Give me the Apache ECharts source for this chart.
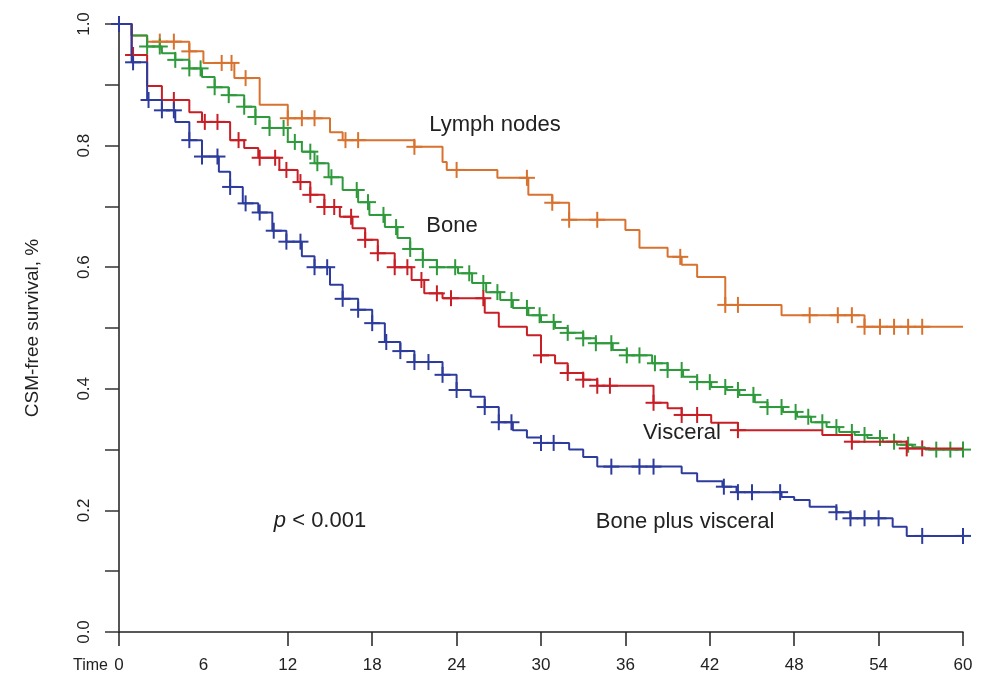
<!DOCTYPE html>
<html>
<head>
<meta charset="utf-8">
<script src="https://cdn.jsdelivr.net/npm/echarts@6/dist/echarts.min.js"></script>
<style>
html,body{margin:0;padding:0;background:#fff;}
#chart{width:982px;height:687px;}
</style>
</head>
<body>
<div id="chart"></div>
<script>
// ---- tick labels ----
const xTickLabels = [0, 6, 12, 18, 24, 30, 36, 42, 48, 54, 60];
const xTickMarks = [0, 12, 18, 24, 30, 36, 42, 48, 54, 60];
const yTickLabels = [0, 0.2, 0.4, 0.6, 0.8, 1.0];
const yTickMarks = [0, 0.1, 0.2, 0.3, 0.4, 0.5, 0.6, 0.7, 0.8, 0.9, 1.0];

// ---- Lymph nodes ----
const lymphTimes = [0, 0.9, 2.0, 5.0, 6.0, 8.2, 10.0, 12.0, 15.0, 15.9, 21.0, 23.0, 23.3, 26.9, 29.1, 30.8, 32.0, 36.0, 37.0, 39.0, 40.0, 41.1, 43.1, 47.1, 53.0];
const lymphSurv = [1.0, 0.981, 0.971, 0.955, 0.936, 0.911, 0.867, 0.845, 0.822, 0.809, 0.798, 0.773, 0.76, 0.747, 0.719, 0.706, 0.678, 0.661, 0.632, 0.617, 0.604, 0.584, 0.538, 0.521, 0.502];
const lymphCensor = [2.9, 3.9, 5.0, 7.3, 8.0, 9.0, 12.0, 13.0, 13.9, 16.1, 17.0, 21.0, 24.0, 29.0, 30.8, 32.0, 34.0, 39.9, 43.1, 44.0, 49.1, 51.1, 52.1, 53.0, 54.1, 55.1, 56.1, 57.1];

// ---- Bone ----
const boneTimes = [0, 0.9, 2.0, 3.05, 4.0, 5.0, 5.9, 6.8, 7.8, 8.9, 9.7, 10.7, 12.0, 13.0, 13.9, 14.9, 15.9, 17.0, 17.8, 18.9, 19.8, 20.7, 21.6, 22.6, 24.1, 25.1, 26.1, 27.1, 28.0, 29.1, 30.0, 31.0, 31.9, 33.0, 33.9, 35.1, 36.1, 37.9, 39.0, 40.1, 41.1, 42.1, 43.2, 44.1, 45.2, 46.1, 47.2, 48.2, 49.2, 50.3, 51.2, 52.3, 53.2, 54.3, 55.3, 56.4, 57.3];
const boneSurv = [1.0, 0.981, 0.963, 0.952, 0.941, 0.927, 0.913, 0.896, 0.883, 0.864, 0.847, 0.829, 0.806, 0.79, 0.771, 0.748, 0.727, 0.707, 0.686, 0.666, 0.648, 0.630, 0.612, 0.600, 0.590, 0.574, 0.559, 0.546, 0.533, 0.521, 0.51, 0.50, 0.492, 0.483, 0.475, 0.464, 0.455, 0.442, 0.431, 0.42, 0.411, 0.403, 0.398, 0.39, 0.378, 0.37, 0.362, 0.354, 0.345, 0.337, 0.329, 0.324, 0.319, 0.313, 0.308, 0.304, 0.300];
const boneCensor = [2.0, 2.9, 4.0, 5.0, 5.8, 6.8, 7.8, 8.9, 9.7, 10.7, 11.7, 12.5, 13.6, 14.1, 15.1, 16.9, 17.7, 18.8, 19.7, 20.7, 21.6, 22.6, 23.9, 24.9, 25.9, 26.9, 27.9, 29.0, 29.9, 30.9, 31.9, 33.0, 33.9, 35.0, 36.1, 37.0, 38.1, 39.0, 40.0, 41.1, 42.0, 43.1, 44.0, 45.1, 46.1, 47.1, 48.1, 49.0, 50.0, 51.0, 52.1, 53.0, 54.1, 55.1, 56.1, 58.1, 59.1, 60.0];

// ---- Visceral ----
const viscTimes = [0, 0.9, 2.0, 3.05, 5.0, 5.9, 7.9, 8.9, 9.9, 11.4, 12.7, 13.6, 14.6, 15.7, 16.6, 17.5, 18.4, 19.6, 20.8, 21.7, 23.0, 26.0, 27.0, 29.0, 30.0, 31.0, 31.9, 33.0, 34.0, 38.0, 39.0, 40.0, 42.1, 44.0, 50.0, 52.1, 56.0];
const viscSurv = [1.0, 0.949, 0.898, 0.875, 0.855, 0.839, 0.809, 0.796, 0.78, 0.76, 0.74, 0.719, 0.699, 0.683, 0.664, 0.645, 0.623, 0.60, 0.579, 0.557, 0.549, 0.525, 0.502, 0.488, 0.455, 0.442, 0.426, 0.415, 0.405, 0.377, 0.368, 0.357, 0.344, 0.332, 0.324, 0.313, 0.302];
const viscCensor = [1.0, 3.9, 6.1, 7.0, 8.5, 10.0, 11.1, 11.9, 12.9, 13.6, 14.6, 15.3, 16.5, 17.5, 18.4, 19.6, 20.5, 21.5, 22.6, 23.6, 25.9, 30.0, 31.9, 33.0, 34.0, 34.9, 38.0, 40.0, 41.1, 44.0, 52.1, 56.0, 57.1];

// ---- Bone plus visceral ----
const bpvTimes = [0, 0.9, 2.0, 3.05, 4.0, 5.0, 5.9, 7.1, 7.9, 8.8, 9.9, 10.9, 11.9, 13.0, 13.9, 15.0, 15.9, 17.0, 18.0, 18.9, 20.0, 21.0, 23.0, 24.0, 25.0, 26.0, 27.0, 28.0, 29.0, 30.0, 32.0, 33.0, 34.0, 40.0, 41.1, 42.9, 43.9, 47.1, 48.0, 49.1, 51.0, 52.0, 55.0, 56.0];
const bpvSurv = [1.0, 0.937, 0.875, 0.858, 0.839, 0.809, 0.782, 0.757, 0.732, 0.705, 0.69, 0.66, 0.642, 0.618, 0.60, 0.571, 0.548, 0.53, 0.508, 0.477, 0.462, 0.444, 0.423, 0.398, 0.387, 0.37, 0.345, 0.332, 0.32, 0.311, 0.30, 0.288, 0.272, 0.261, 0.248, 0.239, 0.23, 0.222, 0.217, 0.206, 0.197, 0.187, 0.173, 0.158];
const bpvCensor = [0, 1.0, 2.1, 3.05, 3.9, 5.0, 5.9, 7.0, 7.9, 9.0, 10.0, 11.0, 11.9, 12.9, 13.9, 14.8, 15.9, 17.0, 18.0, 19.0, 20.0, 21.0, 22.0, 23.0, 24.0, 26.0, 27.0, 27.9, 30.0, 30.9, 35.0, 37.0, 38.0, 43.0, 44.0, 45.0, 47.0, 51.0, 52.0, 53.0, 54.0, 57.1, 60.0];

const X_MAX = 60;

function stepData(times, surv) {
  const d = times.map((t, i) => [t, surv[i]]);
  d.push([X_MAX, surv[surv.length - 1]]);
  return d;
}
function survAt(times, surv, t) {
  let s = surv[0];
  for (let i = 0; i < times.length; i++) { if (times[i] <= t + 1e-9) s = surv[i]; }
  return s;
}
function censorData(times, surv, cens) {
  return cens.map(t => [t, survAt(times, surv, t)]);
}

const groups = [
  { name: 'Lymph nodes', color: '#D8722F', t: lymphTimes, s: lymphSurv, c: lymphCensor },
  { name: 'Bone', color: '#2E9A3C', t: boneTimes, s: boneSurv, c: boneCensor },
  { name: 'Visceral', color: '#C81E26', t: viscTimes, s: viscSurv, c: viscCensor },
  { name: 'Bone plus visceral', color: '#2D3C9C', t: bpvTimes, s: bpvSurv, c: bpvCensor }
];

const series = [];
groups.forEach(g => {
  series.push({
    name: g.name, type: 'line', step: 'end', symbol: 'none',
    data: stepData(g.t, g.s),
    lineStyle: { color: g.color, width: 2 },
    animation: false, silent: true
  });
  series.push({
    name: g.name + ' censored', type: 'custom',
    data: censorData(g.t, g.s, g.c),
    animation: false, silent: true,
    renderItem: function (params, api) {
      const p = api.coord([api.value(0), api.value(1)]);
      const h = 8;
      return {
        type: 'group',
        children: [
          { type: 'line', shape: { x1: p[0] - h, y1: p[1], x2: p[0] + h, y2: p[1] }, style: { stroke: g.color, lineWidth: 2 } },
          { type: 'line', shape: { x1: p[0], y1: p[1] - h, x2: p[0], y2: p[1] + h }, style: { stroke: g.color, lineWidth: 2 } }
        ]
      };
    }
  });
});

const FONT = '"Liberation Sans", Arial, sans-serif';
const chart = echarts.init(document.getElementById('chart'), null, { renderer: 'canvas' });
chart.setOption({
  backgroundColor: '#ffffff',
  animation: false,
  grid: { left: 119, right: 19, top: 24, bottom: 55, containLabel: false },
  xAxis: {
    type: 'value', min: 0, max: X_MAX, interval: 6,
    name: 'Time', nameLocation: 'start', nameGap: 11,
    nameTextStyle: { fontFamily: FONT, fontSize: 16, color: '#222', verticalAlign: 'top', padding: [26, 0, 0, 0] },
    axisLine: { show: true, onZero: false, lineStyle: { color: '#222', width: 1.5 } },
    axisTick: { show: true, length: 14, customValues: xTickMarks, lineStyle: { color: '#222', width: 1.5 } },
    axisLabel: { customValues: xTickLabels, fontFamily: FONT, fontSize: 17, color: '#222', margin: 25 },
    splitLine: { show: false }
  },
  yAxis: {
    type: 'value', min: 0, max: 1, interval: 0.2,
    name: 'CSM-free survival, %', nameLocation: 'middle', nameGap: 77, nameRotate: 90,
    nameTextStyle: { fontFamily: FONT, fontSize: 19, color: '#222' },
    axisLine: { show: true, lineStyle: { color: '#555', width: 2 } },
    axisTick: { show: true, length: 14, customValues: yTickMarks, lineStyle: { color: '#333', width: 1.5 } },
    axisLabel: { customValues: yTickLabels, rotate: 90, fontFamily: FONT, fontSize: 17, color: '#222', margin: 26,
      formatter: v => Number(v).toFixed(1) },
    splitLine: { show: false }
  },
  graphic: [
    { type: 'text', style: { text: 'Lymph nodes', x: 495, y: 125, textAlign: 'center', textVerticalAlign: 'middle', font: '22px ' + FONT, fill: '#222' } },
    { type: 'text', style: { text: 'Bone', x: 452, y: 226, textAlign: 'center', textVerticalAlign: 'middle', font: '22px ' + FONT, fill: '#222' } },
    { type: 'text', style: { text: 'Visceral', x: 682, y: 433, textAlign: 'center', textVerticalAlign: 'middle', font: '22px ' + FONT, fill: '#222' } },
    { type: 'text', style: { text: 'Bone plus visceral', x: 685, y: 522, textAlign: 'center', textVerticalAlign: 'middle', font: '22px ' + FONT, fill: '#222' } },
    { type: 'text', style: { text: '{i|p} < 0.001', x: 320, y: 521, textAlign: 'center', textVerticalAlign: 'middle', font: '22px ' + FONT, fill: '#222',
      rich: { i: { fontStyle: 'italic', fontSize: 22, fontFamily: FONT, fill: '#222' } } } }
  ],
  series: series
});
</script>
</body>
</html>
